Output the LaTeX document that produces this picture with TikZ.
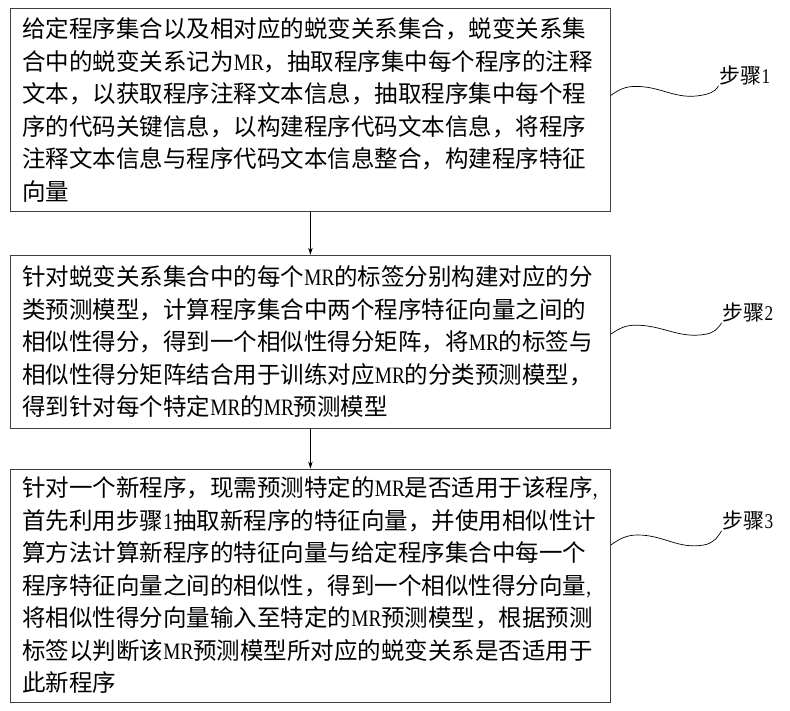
\documentclass[tikz,border=0pt]{standalone}
\usepackage{fontspec}
\setmainfont{Noto Sans CJK SC}
\newfontfamily\narrowfont[FakeStretch=0.82]{Liberation Serif}
\newcommand{\mrtxt}{{\narrowfont MR}}
\newcommand{\numtxt}[1]{{\narrowfont #1}}
\usepackage{tikz}
\usetikzlibrary{arrows.meta,positioning}

\begin{document}
\begin{tikzpicture}[
    node distance=40pt,
    stepbox/.style={rectangle, draw=black!75, line width=0.8pt, minimum width=600pt,
        text width=576pt, inner xsep=12pt, inner ysep=0pt, align=left,
        font=\fontsize{23.5}{32.5}\selectfont},
    steplabel/.style={inner sep=1pt, font=\fontsize{21}{24}\selectfont},
    arrow/.style={-{Stealth[length=7pt,width=4.5pt]}, line width=0.7pt},
    leader/.style={line width=0.7pt}
]
    \useasboundingbox (0,0) rectangle (790pt,-711pt);

    % Nodes
    \node[stepbox, minimum height=203pt, anchor=north west] (s1) at (10pt,-8pt)
        {给定程序集合以及相对应的蜕变关系集合，蜕变关系集\\
         合中的蜕变关系记为\mrtxt，抽取程序集中每个程序的注释\\
         文本，以获取程序注释文本信息，抽取程序集中每个程\\
         序的代码关键信息，以构建程序代码文本信息，将程序\\
         注释文本信息与程序代码文本信息整合，构建程序特征\\
         向量};
    \node[stepbox, minimum height=173pt, below=43pt of s1] (s2)
        {针对蜕变关系集合中的每个\mrtxt 的标签分别构建对应的分\\
         类预测模型，计算程序集合中两个程序特征向量之间的\\
         相似性得分，得到一个相似性得分矩阵，将\mrtxt 的标签与\\
         相似性得分矩阵结合用于训练对应\mrtxt 的分类预测模型，\\
         得到针对每个特定\mrtxt 的\mrtxt 预测模型};
    \node[stepbox, minimum height=233pt, below=of s2] (s3)
        {针对一个新程序，现需预测特定的\mrtxt 是否适用于该程序{\narrowfont ,}\\
         首先利用步骤\numtxt{1}抽取新程序的特征向量，并使用相似性计\\
         算方法计算新程序的特征向量与给定程序集合中每一个\\
         程序特征向量之间的相似性，得到一个相似性得分向量{\narrowfont ,}\\
         将相似性得分向量输入至特定的\mrtxt 预测模型，根据预测\\
         标签以判断该\mrtxt 预测模型所对应的蜕变关系是否适用于\\
         此新程序};

    \node[steplabel] (l1) at (745pt,-75pt) {步骤{\narrowfont 1}};
    \node[steplabel] (l2) at (748pt,-312pt) {步骤{\narrowfont 2}};
    \node[steplabel] (l3) at (748pt,-520pt) {步骤{\narrowfont 3}};

    \coordinate (c1) at ([yshift=14.5pt]s1.east);
    \coordinate (c2) at ([yshift=7.5pt]s2.east);
    \coordinate (c3) at ([yshift=40.5pt]s3.east);

    % Arrows
    \draw[arrow] (s1) -- (s2);
    \draw[arrow] (s2) -- (s3);

    % Leaders
    \draw[leader] (c1) to[out=35,in=180] ++(25pt,9pt) to[out=0,in=190] ++(65pt,-9pt)
        to[out=10,in=240] (l1.south west);
    \draw[leader] (c2) to[out=35,in=180] ++(25pt,9pt) to[out=0,in=190] ++(70pt,-9pt)
        to[out=10,in=240] (l2.south west);
    \draw[leader] (c3) to[out=35,in=180] ++(27pt,10pt) to[out=0,in=190] ++(66pt,-10pt)
        to[out=10,in=240] (l3.south west);

\end{tikzpicture}
\end{document}
